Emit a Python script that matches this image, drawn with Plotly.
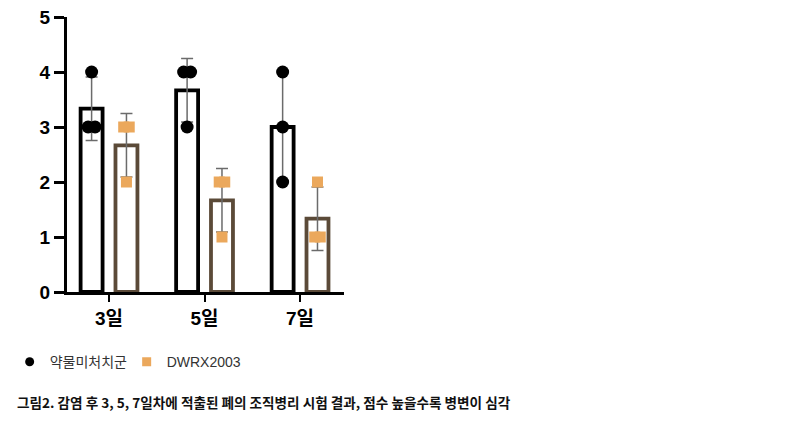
import numpy as np
import plotly.graph_objects as go

# 조직병리 점수 (개체별)
days = ["3일", "5일", "7일"]
control_scores = [[4, 3, 3], [4, 4, 3], [4, 3, 2]]
dwrx_scores = [[3, 3, 2], [2, 2, 1], [2, 1, 1]]
series_names = ["약물미처치군", "DWRX2003"]
caption = "그림2. 감염 후 3, 5, 7일차에 적출된 폐의 조직병리 시험 결과, 점수 높을수록 병변이 심각"

BLACK = "#000000"
BROWN = "#5b4a38"
TAN = "#eba85c"
ERR = "#6b6b6b"
KFONT = "Liberation Sans, Noto Sans CJK KR, sans-serif"

GROUP_OFF = 0.1825  # bar slot centre offset, matches bargap/bargroupgap below


def spread(vals, step):
    # spread duplicated values sideways (like prism's scatter)
    out = []
    for i, v in enumerate(vals):
        same = [j for j, w in enumerate(vals) if w == v]
        k = same.index(i)
        out.append((k - (len(same) - 1) / 2) * step)
    return out


xpos = np.arange(len(days))
fig = go.Figure()

for scores, name, line_col in [(control_scores, series_names[0], BLACK),
                               (dwrx_scores, series_names[1], BROWN)]:
    arr = np.array(scores, dtype=float)
    fig.add_trace(go.Bar(
        x=xpos, y=arr.mean(axis=1), name=name, showlegend=False,
        marker=dict(color="white", line=dict(color=line_col, width=3.8)),
        error_y=dict(type="data", array=arr.std(axis=1, ddof=1), visible=True,
                     color=ERR, thickness=1.5, width=6),
    ))

# individual points
for scores, name, sym, col, size, step, sign in [
        (control_scores, series_names[0], "circle", BLACK, 13, 0.073, -1),
        (dwrx_scores, series_names[1], "square", TAN, 11, 0.058, 1)]:
    xs, ys = [], []
    for i, vals in enumerate(scores):
        for dx, v in zip(spread(vals, step), vals):
            xs.append(xpos[i] + sign * GROUP_OFF + dx)
            ys.append(v)
    fig.add_trace(go.Scatter(
        x=xs, y=ys, mode="markers", showlegend=False, cliponaxis=False,
        marker=dict(symbol=sym, color=col, size=size, line=dict(width=0)),
    ))
    # legend entry with small marker
    fig.add_trace(go.Scatter(
        x=[None], y=[None], mode="markers", name=name,
        marker=dict(symbol=sym, color=col, size=9),
    ))

fig.update_layout(
    width=800, height=433,
    margin=dict(l=67, r=456, t=17, b=141, autoexpand=False),
    plot_bgcolor="white", paper_bgcolor="white",
    barmode="group", bargap=0.27, bargroupgap=0.37,
    font=dict(family=KFONT, color="#000"),
    legend=dict(orientation="h", x=-0.207, xanchor="left", y=-0.255, yanchor="middle",
                font=dict(size=14, color="#333", family=KFONT),
                entrywidth=72, entrywidthmode="pixels", bgcolor="rgba(0,0,0,0)"),
)
fig.update_xaxes(
    range=[-0.44, 2.46], tickvals=xpos, ticktext=[f"<b>{d}</b>" for d in days],
    showline=True, linecolor=BLACK, linewidth=3, automargin=False,
    ticks="outside", ticklen=7, tickwidth=2, tickcolor=BLACK,
    tickfont=dict(size=19, color=BLACK), showgrid=False, zeroline=False,
)
fig.update_yaxes(
    range=[0, 5], tickvals=[0, 1, 2, 3, 4, 5], ticktext=[f"<b>{v}</b>" for v in range(6)],
    showline=True, linecolor=BLACK, linewidth=3, automargin=False,
    ticks="outside", ticklen=10, tickwidth=3, tickcolor=BLACK,
    tickfont=dict(size=19, color=BLACK), showgrid=False, zeroline=False,
)

fig.add_annotation(
    text=f"<b>{caption}</b>", xref="paper", yref="paper",
    x=-0.187, y=-0.4, xanchor="left", yanchor="middle", showarrow=False,
    font=dict(size=13.6, color="#111", family="Noto Sans CJK KR, sans-serif"),
)

# drop the default 8px body margin so the figure sits at the page corner
fig.write_html("out.html", config={"displayModeBar": False},
               post_script="document.body.style.margin='0';")
